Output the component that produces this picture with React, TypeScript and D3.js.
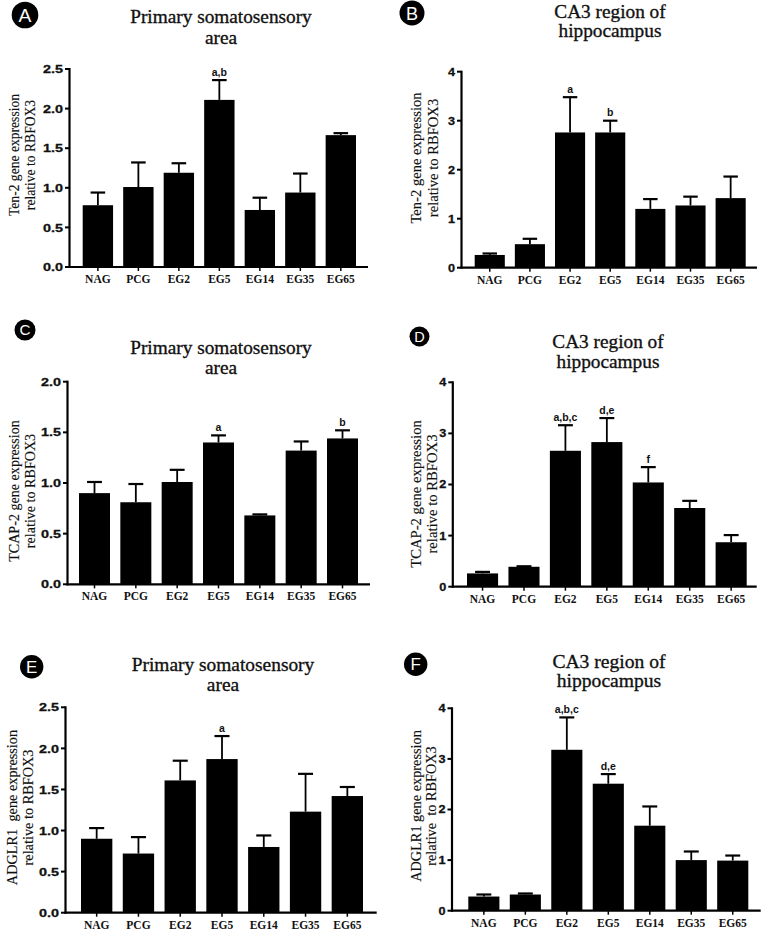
import React from "react";
import * as d3 from "d3";

const categories = ["NAG", "PCG", "EG2", "EG5", "EG14", "EG35", "EG65"];

const ten2SomatoMean = [0.78, 1.01, 1.19, 2.11, 0.72, 0.94, 1.665];
const ten2SomatoSem = [0.16, 0.31, 0.12, 0.25, 0.155, 0.24, 0.025];
const ten2SomatoSig = ["", "", "", "a,b", "", "", ""];

const ten2Ca3Mean = [0.26, 0.48, 2.76, 2.76, 1.2, 1.27, 1.42];
const ten2Ca3Sem = [0.03, 0.11, 0.72, 0.24, 0.2, 0.18, 0.44];
const ten2Ca3Sig = ["", "", "a", "b", "", "", ""];

const tcapSomatoMean = [0.9, 0.81, 1.01, 1.4, 0.68, 1.32, 1.44];
const tcapSomatoSem = [0.11, 0.18, 0.12, 0.07, 0.01, 0.09, 0.08];
const tcapSomatoSig = ["", "", "", "a", "", "", "b"];

const tcapCa3Mean = [0.26, 0.39, 2.66, 2.83, 2.04, 1.54, 0.87];
const tcapCa3Sem = [0.03, 0.01, 0.5, 0.47, 0.3, 0.14, 0.14];
const tcapCa3Sig = ["", "", "a,b,c", "d,e", "f", "", ""];

const adglrSomatoMean = [0.9, 0.72, 1.61, 1.87, 0.8, 1.23, 1.42];
const adglrSomatoSem = [0.13, 0.2, 0.24, 0.28, 0.14, 0.46, 0.11];
const adglrSomatoSig = ["", "", "", "a", "", "", ""];

const adglrCa3Mean = [0.28, 0.32, 3.18, 2.51, 1.68, 1.0, 0.99];
const adglrCa3Sem = [0.04, 0.02, 0.64, 0.19, 0.38, 0.17, 0.1];
const adglrCa3Sig = ["", "", "a,b,c", "d,e", "", "", ""];

const somatoTitle = ["Primary somatosensory", "area"];
const ca3Title = ["CA3 region of", "hippocampus"];
const ticks25 = [0, 0.5, 1, 1.5, 2, 2.5];
const ticks20 = [0, 0.5, 1, 1.5, 2];
const ticks4 = [0, 1, 2, 3, 4];

type Panel = {
  letter: string;
  title: string[];
  ylabel: string[];
  mean: number[];
  sem: number[];
  sig: string[];
  yMax: number;
  ticks: number[];
  fmt: string;
  // layout
  x0: number; x1: number; yTop: number; yBot: number;
  barL: number; barR: number;
  titleX: number; titleY1: number; titleY2: number; titleFs: number;
  circX: number; circY: number; circR: number;
  labX1: number; labGap: number; labCY: number; labFs: number;
  tickFs: number; tickSx: number;
};

const panels: Panel[] = [
  {
    letter: "A", title: somatoTitle, ylabel: ["Ten-2 gene expression", "relative to RBFOX3"],
    mean: ten2SomatoMean, sem: ten2SomatoSem, sig: ten2SomatoSig, yMax: 2.5, ticks: ticks25, fmt: ".1f",
    x0: 69.5, x1: 368, yTop: 69, yBot: 267, barL: 82.7, barR: 356,
    titleX: 221, titleY1: 23, titleY2: 43.5, titleFs: 19.3, circX: 25, circY: 15, circR: 13.3,
    labX1: 19, labGap: 16, labCY: 155, labFs: 13.6, tickFs: 11.5, tickSx: 1.25,
  },
  {
    letter: "B", title: ca3Title, ylabel: ["Ten-2 gene expression", "relative to RBFOX3"],
    mean: ten2Ca3Mean, sem: ten2Ca3Sem, sig: ten2Ca3Sig, yMax: 4, ticks: ticks4, fmt: "d",
    x0: 461.5, x1: 757, yTop: 71.7, yBot: 267.7, barL: 474.7, barR: 745.7,
    titleX: 610, titleY1: 17.5, titleY2: 36.5, titleFs: 19.3, circX: 412, circY: 13, circR: 12.5,
    labX1: 421, labGap: 16.5, labCY: 158, labFs: 14.6, tickFs: 11, tickSx: 1.15,
  },
  {
    letter: "C", title: somatoTitle, ylabel: ["TCAP-2 gene expression", "relative to RBFOX3"],
    mean: tcapSomatoMean, sem: tcapSomatoSem, sig: tcapSomatoSig, yMax: 2.0, ticks: ticks20, fmt: ".1f",
    x0: 67.5, x1: 370, yTop: 381.7, yBot: 584.3, barL: 79, barR: 358,
    titleX: 221, titleY1: 354, titleY2: 374, titleFs: 19.3, circX: 25, circY: 330, circR: 10.5,
    labX1: 18.5, labGap: 16, labCY: 491, labFs: 14.1, tickFs: 11.5, tickSx: 1.25,
  },
  {
    letter: "D", title: ca3Title, ylabel: ["TCAP-2 gene expression", "relative to RBFOX3"],
    mean: tcapCa3Mean, sem: tcapCa3Sem, sig: tcapCa3Sig, yMax: 4, ticks: ticks4, fmt: "d",
    x0: 452.8, x1: 756.7, yTop: 382.3, yBot: 586.7, barL: 467, barR: 746.7,
    titleX: 608, titleY1: 348.3, titleY2: 367.5, titleFs: 19.3, circX: 419.5, circY: 336.5, circR: 10,
    labX1: 421, labGap: 15.5, labCY: 494, labFs: 14.7, tickFs: 11, tickSx: 1.15,
  },
  {
    letter: "E", title: somatoTitle, ylabel: ["ADGLR1  gene expression", "relative to RBFOX3"],
    mean: adglrSomatoMean, sem: adglrSomatoSem, sig: adglrSomatoSig, yMax: 2.5, ticks: ticks25, fmt: ".1f",
    x0: 65.5, x1: 376.7, yTop: 707.3, yBot: 912.7, barL: 81, barR: 363,
    titleX: 223, titleY1: 671, titleY2: 691, titleFs: 19.4, circX: 31.7, circY: 666.7, circR: 11.7,
    labX1: 17, labGap: 15.5, labCY: 807.5, labFs: 14.3, tickFs: 11.5, tickSx: 1.25,
  },
  {
    letter: "F", title: ca3Title, ylabel: ["ADGLR1 gene expression", "relative  to RBFOX3"],
    mean: adglrCa3Mean, sem: adglrCa3Sem, sig: adglrCa3Sig, yMax: 4, ticks: ticks4, fmt: "d",
    x0: 452, x1: 760.7, yTop: 708.3, yBot: 910.7, barL: 468.3, barR: 748.3,
    titleX: 609, titleY1: 668, titleY2: 687.3, titleFs: 19.6, circX: 415.7, circY: 664.3, circR: 11.7,
    labX1: 421, labGap: 15, labCY: 806, labFs: 14.3, tickFs: 11, tickSx: 1.15,
  },
];

const SERIF = "'Liberation Serif', 'Times New Roman', serif";
const SANS = "'Liberation Sans', Arial, Helvetica, sans-serif";

function BarPanel({ p }: { p: Panel }) {
  const x = d3.scaleBand<string>().domain(categories).range([p.barL, p.barR]).paddingInner(0.25).paddingOuter(0);
  const y = d3.scaleLinear().domain([0, p.yMax]).range([p.yBot, p.yTop]);
  const fmt = d3.format(p.fmt);
  const bw = x.bandwidth();
  const capW = bw * 0.48;
  return (
    <g>
      {/* panel letter */}
      <circle cx={p.circX} cy={p.circY} r={p.circR} fill="#000" />
      <text x={p.circX} y={p.circY} dy="0.36em" textAnchor="middle" fill="#fff"
        fontFamily={SANS} fontSize={p.circR * 1.45}>{p.letter}</text>
      {/* title */}
      {p.title.map((t, i) => (
        <text key={i} x={p.titleX} y={i === 0 ? p.titleY1 : p.titleY2} textAnchor="middle" fontFamily={SERIF}
          fontSize={p.titleFs} fill="#111" stroke="#111" strokeWidth={0.35}>{t}</text>
      ))}
      {/* y label */}
      {p.ylabel.map((t, i) => (
        <text key={i} transform={`translate(${p.labX1 + i * p.labGap},${p.labCY}) rotate(-90)`}
          textAnchor="middle" fontFamily={SERIF} fontSize={p.labFs} fill="#111" stroke="#111" strokeWidth={0.15}
          style={{ whiteSpace: "pre" }}>{t}</text>
      ))}
      {/* bars */}
      {categories.map((c, i) => {
        const bx = x(c)!;
        const cx = bx + bw / 2;
        const top = y(p.mean[i] + p.sem[i]);
        return (
          <g key={c}>
            <line x1={cx} x2={cx} y1={y(p.mean[i])} y2={top} stroke="#000" strokeWidth={1.8} />
            <line x1={cx - capW / 2} x2={cx + capW / 2} y1={top} y2={top} stroke="#000" strokeWidth={2.2} />
            <rect x={bx} y={y(p.mean[i])} width={bw} height={p.yBot - y(p.mean[i])} fill="#000" />
            {p.sig[i] && (
              <text x={cx} y={top - 4.5} textAnchor="middle" fontFamily={SANS} fontWeight="bold" fontSize={10.5} fill="#111">{p.sig[i]}</text>
            )}
            <line x1={cx} x2={cx} y1={p.yBot} y2={p.yBot + 4} stroke="#000" strokeWidth={1.5} />
            <text x={cx} y={p.yBot + 16} textAnchor="middle" fontFamily={SERIF} fontWeight="bold" fontSize={11.5} fill="#111">{c}</text>
          </g>
        );
      })}
      {/* axes */}
      <line x1={p.x0} x2={p.x0} y1={p.yTop - 1} y2={p.yBot + 1} stroke="#000" strokeWidth={2.2} />
      <line x1={p.x0 - 1} x2={p.x1} y1={p.yBot} y2={p.yBot} stroke="#000" strokeWidth={2.2} />
      {p.ticks.map((t) => (
        <g key={t}>
          <line x1={p.x0 - 4.5} x2={p.x0} y1={y(t)} y2={y(t)} stroke="#000" strokeWidth={2} />
          <g transform={`translate(${p.x0 - 6.5},${y(t)}) scale(${p.tickSx},1)`}>
            <text x={0} y={0} dy="0.36em" textAnchor="end" fontFamily={SANS} fontWeight="bold"
              fontSize={p.tickFs} fill="#111" stroke="#111" strokeWidth={0.3}>{fmt(t)}</text>
          </g>
        </g>
      ))}
    </g>
  );
}

export default function App() {
  return (
    <svg width={767} height={933} viewBox="0 0 767 933"
      style={{ position: "absolute", left: 0, top: 0, background: "#fff" }}>
      <rect x={0} y={0} width={767} height={933} fill="#fff" />
      {panels.map((p) => <BarPanel key={p.letter} p={p} />)}
    </svg>
  );
}
